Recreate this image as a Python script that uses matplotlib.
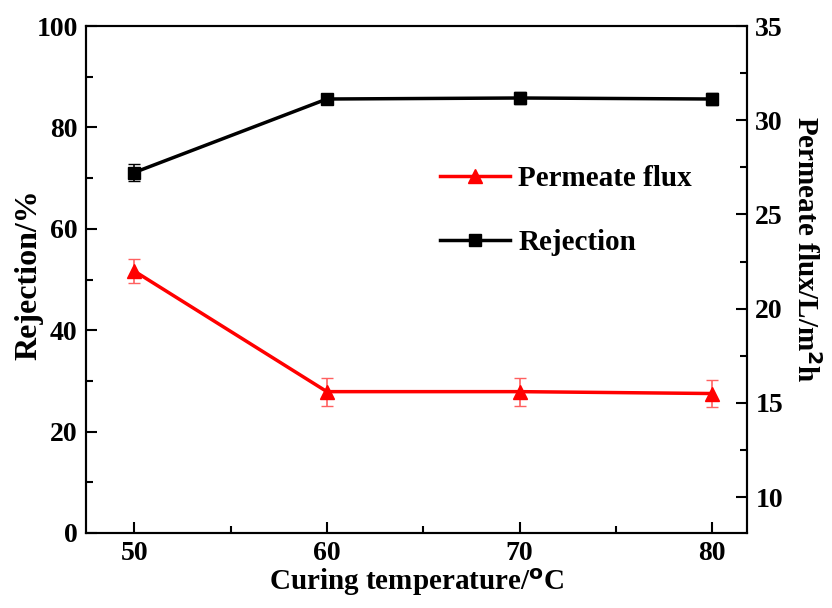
import matplotlib
matplotlib.use("Agg")
import matplotlib.pyplot as plt
from matplotlib.lines import Line2D

plt.rcParams['font.family'] = 'Liberation Serif'
plt.rcParams['font.weight'] = 'bold'
plt.rcParams['mathtext.default'] = 'regular'

temperature = [50, 60, 70, 80]
rejection = [71.1, 85.6, 85.8, 85.6]
rejection_err = [1.6, 1.0, 1.2, 1.2]
flux = [22.0, 15.6, 15.6, 15.5]
flux_err = [0.65, 0.75, 0.75, 0.7]

fig = plt.figure(figsize=(8.32, 6.08), dpi=100)
ax = fig.add_axes([86/832, 1 - 533/608, (747 - 86)/832, (533 - 26)/608])
ax2 = ax.twinx()

# rejection on left axis
ax.errorbar(temperature, rejection, yerr=rejection_err, color='k', marker='s',
            markersize=8, linewidth=2.5, capsize=4, elinewidth=1.2)
# flux on right axis
ax2.errorbar(temperature, flux, yerr=flux_err, color='red', marker='^',
             markersize=10, linewidth=2.5, capsize=4, elinewidth=1.2,
             ecolor='#ff6060')

ax.set_xlim(47.5, 81.8)
ax.set_ylim(0, 100)
ax2.set_ylim(8.1, 35)
ax.set_xticks(temperature)
ax.set_xticks([55, 65, 75], minor=True)
ax.set_yticks([0, 20, 40, 60, 80, 100])
ax.set_yticks([10, 30, 50, 70, 90], minor=True)
ax2.set_yticks([10, 15, 20, 25, 30, 35])
ax2.set_yticks([12.5, 17.5, 22.5, 27.5, 32.5], minor=True)

for a in (ax, ax2):
    a.tick_params(which='major', direction='in', length=8, width=1.5, labelsize=20, pad=6)
    a.tick_params(which='minor', direction='in', length=5, width=1.5)
    for s in a.spines.values():
        s.set_linewidth(1.5)
ax.tick_params(top=False, which='both')

ax.set_xlabel(r'Curing temperature/$^\mathbf{o}$C', fontsize=21, fontweight='bold', labelpad=0)
ax.set_ylabel('Rejection/%', fontsize=23, fontweight='bold', labelpad=6)
ax.yaxis.set_label_coords(-0.065, 0.51)
ax2.set_ylabel(r'Permeate flux/L/m$^\mathbf{2}$h', fontsize=21, fontweight='bold',
               rotation=270, labelpad=28)
ax2.yaxis.set_label_coords(1.11, 0.56)

handles = [Line2D([], [], color='red', marker='^', markersize=10, linewidth=2.5),
           Line2D([], [], color='k', marker='s', markersize=8, linewidth=2.5)]
ax.legend(handles, ['Permeate flux', 'Rejection'], loc='upper left',
          bbox_to_anchor=(0.535, 0.725), frameon=False, fontsize=21,
          handlelength=2.4, handletextpad=0.3, labelspacing=1.25,
          borderpad=0, borderaxespad=0, numpoints=1)

fig.savefig('out.png', dpi=100)
